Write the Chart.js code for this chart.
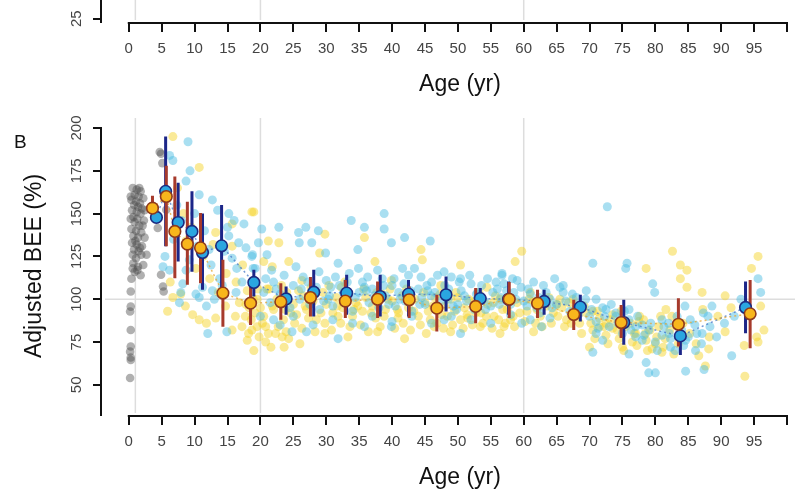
<!DOCTYPE html>
<html>
<head>
<meta charset="utf-8">
<script src="https://cdn.jsdelivr.net/npm/chart.js@4.4.1/dist/chart.umd.min.js"></script>
<style>
  body{margin:0;background:#fff;}
  #wrap{position:relative;width:795px;height:491px;overflow:hidden;background:#fff;}
  #wrap canvas{position:absolute;left:0;}
  #topPanel{top:-393px;}
  #mainPanel{top:0;}
</style>
</head>
<body>
<div id="wrap">
  <canvas id="topPanel" width="795" height="491"></canvas>
  <canvas id="mainPanel" width="795" height="491"></canvas>
</div>
<script>
// ticks
const xTicks = [0,5,10,15,20,25,30,35,40,45,50,55,60,65,70,75,80,85,90,95,100];
const yTicks = [50,75,100,125,150,175,200];
const yTicksTop = [25];
const vLines = [1,20,60];
const refLine = 100;
const xTitle = 'Age (yr)';
const yTitle = 'Adjusted BEE (%)';

// group means with error bars (age, mean, low, high)
const blueAge  = [4.2,5.6,7.5,9.6,11.2,14.1,19.0,23.9,28.1,33.1,38.2,42.5,48.2,53.4,57.7,63.1,68.6,75.2,83.8,93.7];
const blueMean = [147.8,163,144.8,139.6,127.3,131.2,109.8,100.2,104.1,103.6,101.6,103,102.6,100.4,100,98.7,95.4,86.4,78.6,95.2];
const blueLo   = [146,131,122,116,105.5,106,101.6,90.9,89.9,90.9,89.9,89.9,92.8,93.8,90.9,90.9,87,73.4,67.5,80.2];
const blueHi   = [150,195,168,163,150,155,117.2,107.4,117.2,114.3,114.3,111.3,113.3,106.5,110.4,105.5,102.6,99.7,85,110.4];

const orangeAge  = [3.6,5.7,7.0,8.9,10.9,14.3,18.5,23.1,27.6,32.9,37.8,42.6,46.8,52.7,57.8,62.1,67.6,74.8,83.5,94.4];
const orangeMean = [153.2,160,139.6,132.2,130,103.6,97.7,98.5,101,98.9,100,99.7,94.8,95.8,100,97.6,91.1,86.4,85.4,91.5];
const orangeLo   = [148.4,131,112.3,108.4,109.4,84,85,88,89.9,89,89,89,81.1,86,89,89,82.1,77.3,72.4,71.4];
const orangeHi   = [160.4,178,171.7,157,150.3,123,108,109.4,113,111.3,110.4,107.4,102.6,106.5,110,105.5,99.7,96.7,100.6,111.3];

// individual points (age, BEE)
const grayPts = [[0.6,165],[1.2,164],[1.8,163],[0.9,161],[1.5,160],[2.2,159],[0.4,158],[1.1,157],[1.7,156],[0.8,155],
  [1.4,154],[2.0,153],[0.5,152],[1.2,151],[1.8,150],[0.7,148],[1.3,147],[2.3,146],[0.9,145],[1.6,143],[0.4,141],[1.1,140],
  [1.9,139],[0.7,137],[1.4,136],[0.5,133],[1.2,132],[2.0,131],[0.8,129],[1.5,128],[0.6,126],[1.9,126],[2.7,126],[1.1,124],
  [0.7,121],[1.4,119],[0.9,116],[0.4,112],[1.3,117],[0.3,104.5],[0.3,95.7],[0.2,92.8],[0.3,82],[0.3,72.4],[0.2,69.4],
  [0.3,66],[0.3,64.5],[0.2,54],[4.7,186],[5.1,179.5],[5.7,152.3],[4.4,141.6],[4.9,114.3],[5.2,107.4],[5.3,104.5],[4.9,185],
  [0.3,160],[1.6,165],[2.4,152],[2.1,143],[0.3,147],[1.0,134],[1.7,130],[2.4,136],[0.6,118],[2.2,120],[1.8,114]];

const cyanPts = [[9.0,192],[6.2,184],[6.7,181],[8.7,169],[10.7,161],[12.7,158],[13.5,152],[15.2,150],[16.0,146],[15.0,142],
  [17.5,144],[20.2,141],[22.8,142],[18.7,125],[21.0,126],[19.2,118],[5.2,119],[6.2,117],[8.7,117],[7.9,104],[10.2,103],
  [11.2,107],[12.7,105],[8.2,109],[10.4,131],[12.2,129],[15.2,137],[16.7,133],[15.7,124],[7.7,98],[10.7,101],[12.0,80],
  [14.9,81],[13.0,100],[38.8,150],[33.8,146],[35.8,142],[38.8,141],[41.9,136],[39.9,133],[45.8,134],[25.8,139],[26.9,142],
  [28.8,140],[27.8,133],[25.9,133],[29.9,127],[34.8,129],[31.8,121],[41.6,118],[44.4,113],[47.9,116],[50.4,112],[56.7,115],
  [18.8,126],[18.9,118],[23.0,85],[24.8,81],[27.0,81],[31.8,77],[35.8,84],[39.9,84],[47.9,88],[50.4,80],[59.7,86],[62.7,84],
  [49.8,94],[45.4,105],[36.1,105],[30.3,100],[72.7,154],[70.5,121],[75.7,121],[75.5,118],[79.6,109],[79.9,104],[84.5,96],
  [88.6,96],[91.6,67],[95.6,112],[56.7,114],[60.7,106],[64.7,112],[66.0,108],[69.5,105],[71.0,100],[72.5,94],[74.0,90],
  [71.0,80],[72.0,76],[70.5,69],[76.0,68],[78.6,63],[79.0,57],[80.0,57],[82.3,72],[84.6,76],[86.1,70],[87.1,80],[84.6,58],
  [87.4,59],[62.5,92],[78.0,76],[77.0,84],[81.0,88],[82.1,80],[76.0,94],
  [20.5,104],[21.5,98],[22,110],[23,103],[24.5,95],[25,108],[26,100],[26.5,113],[27.5,97],[28.5,107],[29,94],[30,111],
  [30.5,102],[31,96],[32,108],[33,99],[33.5,115],[34,93],[35,104],[35.5,110],[36.5,98],[37,106],[38,95],[38.5,112],[39,102],
  [40,108],[40.5,96],[41,104],[42,99],[42.5,114],[43,93],[44,106],[44.5,101],[45,97],[46,110],[46.5,104],[47,95],[48,108],
  [48.5,100],[49,113],[50,97],[50.5,105],[51,102],[52,109],[52.5,94],[53,104],[54,99],[54.5,112],[55,96],[56,106],[56.5,101],
  [57,109],[58,97],[58.5,104],[59,111],[60,99],[61,103],[62,95],[63,108],[64,100],[65,97],[66,104],[67,93],[68,101],[69,96],
  [70,90],[71,87],[72,95],[73,84],[74,92],[75,80],[76,88],[77,78],[78,85],[79,82],[80,75],[81,79],[82,86],[83,70],[84,82],
  [85,78],[86,85],[87,74],[88,90],
  [20.8,112],[21.7,117],[22.4,106],[23.6,114],[24.2,101],[25.4,119],[26.2,106],[27.2,110],[27.8,102],[28.9,116],[29.6,99],
  [30.7,107],[31.4,113],[32.6,104],[33.2,110],[34.4,101],[34.9,118],[35.8,107],[36.3,113],[37.3,102],[37.8,117],[38.7,108],
  [39.5,97],[40.3,112],[41.2,100],[41.8,109],[42.8,105],[43.4,118],[44.2,97],[45.3,108],[45.9,102],[46.9,114],[47.4,99],
  [48.6,106],[49.3,96],[50.2,110],[51.3,99],[51.8,114],[52.8,103],[53.6,108],[54.2,94],[55.3,104],[55.8,110],[56.3,97],
  [57.4,105],[58.3,112],[58.8,100],[59.6,107],[60.5,96],[61.5,110],[62.3,101],[63.4,104],[64.3,95],[65.5,107],[66.4,99],
  [67.4,103],[68.3,91],[69.4,100],[70.3,94],[71.3,83],[72.3,90],[73.3,97],[74.3,86],[75.3,93],[76.3,82],[77.3,90],[78.3,79],
  [79.3,86],[80.3,70],[81.3,84],[82.3,77],[83.3,90],[84.3,73],[85.3,88],[86.3,80],[87.3,92],[88.3,84],[89.3,78],[90.5,86],
  [92,90],[93,100],[96,104],[20,90],[22,88],[25,90],[28,85],[31,88],[34,86],[37,90],[40,87],[43,90],[46,86],[49,90],[52,88],
  [55,86],[58,91],[61,88],[64,89],
  [5.5,125],[6.8,135],[7.3,155],[8.0,146],[9.3,175],[10.0,150],[11.5,140],[12.5,120],[13.8,112],[14.5,128],[16.4,118],
  [17.2,110],[17.8,130],[19.7,133],[9.2,123],[11.8,96],[14.2,108],[16.3,104]];

const yellowPts = [[6.7,195],[10.7,177],[18.7,151],[15.7,144],[21.2,134],[20.5,122],[21.8,119],[13.2,139],[15.7,131],[8.7,134],
  [5.9,93],[6.7,101],[9.7,91],[13.2,89],[10.7,88],[17.7,90],[18.7,82],[19.0,70],[18.0,76],[20.8,75],[22.3,80],[24.3,77],
  [15.7,82],[14.7,96],[7.9,103],[18,105],[18.3,95],[18.6,88],[18.9,100],[19.2,92],[19.5,84],[18.2,80],[19,110],[17.8,97],
  [19.0,151],[22.8,133],[29.0,127],[44.4,129],[44.6,123],[58.7,122],[59.7,128],[50.4,120],[35.8,136],[29.8,138],[24.3,122],
  [37.4,122],[20.8,84],[23.3,78],[26.0,74],[29.8,80],[33.3,78],[37.8,81],[41.9,77],[46.4,84],[48.9,81],[53.4,84],[56.4,80],
  [61.5,81],[31.8,90],[40.9,89],[51.4,91],[58.4,90],[23.8,94],[26.8,96],[34.8,96],[39.4,100],[48.9,100],[55.4,98],[32.3,107],
  [39.9,111],[47.4,108],[54.4,107],[26.3,111],[21.3,106],[61.0,104],[82.6,128],[83.8,120],[84.8,117],[78.6,118],[83.8,112],
  [84.8,107],[95.6,125],[94.6,118],[95.4,78],[95.6,75],[93.6,55],[90.6,81],[88.1,71],[86.6,67],[87.6,61],[70.5,93],[71.5,84],
  [72.5,86],[73.5,83],[77.0,80],[78.6,76],[80.0,74],[81.0,69],[67.5,100],[65.0,97],[62.0,94],[57.0,84],[77.6,90],[81.6,94],
  [75.0,72],[70.0,72],[87.1,104],[90.6,102],
  [19.5,100],[20,95],[20.5,90],[21,106],[22,94],[22.5,100],[23.5,88],[24,104],[25,97],[25.5,91],[26.5,102],[27,94],[28,99],
  [28.5,88],[29.5,104],[30,97],[31,92],[31.5,101],[32.5,95],[33,103],[34,90],[34.5,98],[35.5,93],[36,101],[37,96],[37.5,89],
  [38.5,103],[39,94],[40,99],[41,92],[41.5,102],[42.5,95],[43.5,100],[44,90],[45,98],[45.5,93],[46.5,101],[47.5,91],[48,96],
  [49.5,93],[50,101],[51,95],[51.5,89],[52.5,99],[53.5,92],[54.5,97],[55.5,90],[56.5,100],[57.5,94],[58,88],[59,98],[60.5,93],
  [61.5,99],[62.5,90],[63.5,96],[64.5,92],[65.5,100],[66.5,88],[67.5,94],[68.5,86],[69.5,92],[70.5,82],[71.5,89],[72.5,79],
  [73.5,91],[74.5,77],[75.5,84],[76.5,75],[77.5,87],[78.5,80],[79.5,71],[80.5,84],[81.5,77],[82.5,90],[83.5,74],
  [19.6,106],[20.3,86],[21.2,80],[21.8,96],[22.7,84],[23.2,108],[23.9,81],[24.6,92],[25.2,86],[25.8,105],[26.3,83],[27.3,89],
  [27.7,107],[28.3,81],[29.2,92],[29.8,86],[30.4,108],[30.8,82],[31.7,96],[32.2,86],[32.8,110],[33.6,84],[34.2,94],[35.2,85],
  [35.7,106],[36.4,81],[36.8,92],[37.7,104],[38.2,84],[38.8,90],[39.7,106],[40.4,83],[40.8,94],[41.7,86],[42.2,106],[42.8,82],
  [43.3,93],[44.3,85],[44.8,104],[45.2,80],[45.8,88],[46.2,96],[46.8,86],[47.3,103],[47.8,83],[48.4,90],[49.2,85],[49.7,104],
  [50.4,88],[50.8,83],[51.6,100],[52.2,85],[52.7,92],[53.2,104],[53.8,86],[54.3,90],[55.2,83],[55.7,102],[56.2,88],[56.8,94],
  [57.2,86],[57.8,100],[58.6,84],[59.4,92],[60.2,87],[60.8,100],[61.8,86],[62.3,96],[62.8,84],[63.8,101],[64.2,86],[65.2,90],
  [65.8,95],[66.2,84],[66.8,98],[67.2,86],[68.2,92],[68.8,80],[69.2,96],[70.2,86],[70.8,77],[71.2,93],[72.2,84],[72.8,74],
  [73.2,88],[74.2,82],[74.8,93],[75.2,70],[76.2,86],[76.8,80],[77.2,73],[78.2,88],[78.8,70],[79.2,82],[80.2,78],[80.8,90],
  [81.2,72],[82.2,82],[82.8,68],[84.2,86],[85.2,80],[86.2,74],[87.2,94],[88.2,78],[89.5,90],[91.5,95],[93.5,73],[96,96],
  [96.5,82],
  [7.4,165],[8.3,150],[9.5,142],[11.3,125],[12.3,112],[13.6,104],[14.8,115],[16.3,110],[16.8,98],[17.3,120],[12.8,132],
  [10.2,118],[6.3,110],[8.6,96],[11.8,86],[16.2,90],[17.2,84],[19.8,78],[21.6,72],[23.6,72]];

const FONT = '"Liberation Sans", Arial, sans-serif';

function pts(list){ return list.map(p => ({x:p[0], y:p[1]})); }
function bars(age, lo, hi){
  var out = [];
  age.forEach((a,i) => { out.push({x:a,y:lo[i]},{x:a,y:hi[i]},{x:a,y:null}); });
  return out;
}
function means(age, m){ return age.map((a,i) => ({x:a, y:m[i]})); }

// R-like extras: grid lines, axis line from first to last tick, rotated labels
const rStyle = {
  id:'rStyle',
  beforeDatasetsDraw(chart, args, o){
    const {ctx, chartArea:a, scales:{x, y}} = chart;
    ctx.save();
    ctx.strokeStyle = '#dddddd';
    ctx.lineWidth = 1.5;
    vLines.forEach(v => {
      var px = x.getPixelForValue(v);
      ctx.beginPath(); ctx.moveTo(px, a.top - 10); ctx.lineTo(px, a.bottom - 2); ctx.stroke();
    });
    if (o.hLine){
      var py = y.getPixelForValue(refLine);
      ctx.beginPath(); ctx.moveTo(a.left + 4, py); ctx.lineTo(chart.width, py); ctx.stroke();
    }
    ctx.restore();
  },
  afterDraw(chart, args, o){
    const {ctx, chartArea:a, scales:{x, y}} = chart;
    ctx.save();
    ctx.strokeStyle = '#111';
    ctx.lineWidth = 2;
    ctx.beginPath();
    ctx.moveTo(x.getPixelForValue(xTicks[0]) - 1, a.bottom + 1);
    ctx.lineTo(x.getPixelForValue(xTicks[xTicks.length-1]) + 1, a.bottom + 1);
    ctx.stroke();

    ctx.fillStyle = '#444';
    ctx.font = '15px ' + FONT;
    ctx.textAlign = 'center';
    ctx.textBaseline = 'middle';
    o.ticks.forEach(v => {
      ctx.save();
      ctx.translate(77, y.getPixelForValue(v));
      ctx.rotate(-Math.PI/2);
      ctx.fillText(String(v), 0, 0);
      ctx.restore();
    });

    ctx.fillStyle = '#111';
    ctx.font = '23px ' + FONT;
    ctx.fillText(xTitle, 460, 478);
    if (o.yTitle){
      ctx.save();
      ctx.translate(35, 266);
      ctx.rotate(-Math.PI/2);
      ctx.fillText(o.yTitle, 0, 0);
      ctx.restore();
    }
    if (o.panel){
      ctx.textAlign = 'left';
      ctx.textBaseline = 'alphabetic';
      ctx.font = '19px ' + FONT;
      ctx.fillText(o.panel, 14, 148);
    }
    ctx.restore();
  }
};

function makeOptions(yMin, ticks, extra){
  return {
    responsive:false,
    animation:false,
    events:[],
    layout:{padding:{top:128, right:3, left:0, bottom:0}},
    plugins:{legend:{display:false}, tooltip:{enabled:false}, rStyle:Object.assign({ticks:ticks}, extra)},
    scales:{
      x:{
        type:'linear', min:-4.22, max:100,
        afterBuildTicks: s => { s.ticks = xTicks.map(v => ({value:v})); },
        afterFit: s => { s.height = 76; },
        border:{display:false},
        grid:{drawOnChartArea:false, drawTicks:true, tickLength:10, color:'#111', lineWidth:2},
        ticks:{autoSkip:false, maxRotation:0, minRotation:0, padding:8, color:'#444',
          font:{family:FONT, size:15},
          callback: v => v === 100 ? '' : v}
      },
      y:{
        type:'linear', min:yMin, max:200,
        afterBuildTicks: s => { s.ticks = ticks.map(v => ({value:v})); },
        afterFit: s => { s.width = 101; },
        border:{display:true, color:'#111', width:2},
        grid:{drawOnChartArea:false, drawTicks:true, tickLength:8, color:'#111', lineWidth:2},
        ticks:{display:false}
      }
    }
  };
}

// upper panel, only its bottom edge is in view
new Chart(document.getElementById('topPanel'), {
  type:'scatter',
  data:{datasets:[]},
  options:makeOptions(23, yTicksTop, {hLine:false}),
  plugins:[rStyle]
});

new Chart(document.getElementById('mainPanel'), {
  type:'scatter',
  data:{
    datasets:[
      {data:means(orangeAge, orangeMean), order:1, pointRadius:5.8, pointBackgroundColor:'#f8b61c',
        pointBorderColor:'#8e3a1c', pointBorderWidth:1.6},
      {data:means(blueAge, blueMean), order:2, pointRadius:5.8, pointBackgroundColor:'#2aa6e0',
        pointBorderColor:'#1b2a80', pointBorderWidth:1.6},
      {data:bars(orangeAge, orangeLo, orangeHi), order:3, showLine:true, spanGaps:false, pointRadius:0,
        borderColor:'#a63a2c', borderWidth:3},
      {data:bars(blueAge, blueLo, blueHi), order:4, showLine:true, spanGaps:false, pointRadius:0,
        borderColor:'#1c2688', borderWidth:3},
      {data:means(orangeAge, orangeMean), order:5, showLine:true, pointRadius:0, borderWidth:1.5,
        borderDash:[2,3], borderColor:'rgba(230,165,50,0.75)'},
      {data:means(blueAge, blueMean), order:6, showLine:true, pointRadius:0, borderWidth:1.5,
        borderDash:[2,3], borderColor:'rgba(70,120,200,0.75)'},
      {data:pts(cyanPts), order:7, pointRadius:4.5, borderWidth:0, pointBackgroundColor:'rgba(75,188,225,0.48)'},
      {data:pts(yellowPts), order:8, pointRadius:4.5, borderWidth:0, pointBackgroundColor:'rgba(245,212,40,0.48)'},
      {data:pts(grayPts), order:9, pointRadius:4.3, borderWidth:0, pointBackgroundColor:'rgba(80,80,80,0.45)'}
    ]
  },
  options:makeOptions(32.4, yTicks, {hLine:true, yTitle:yTitle, panel:'B'}),
  plugins:[rStyle]
});
</script>
</body>
</html>
